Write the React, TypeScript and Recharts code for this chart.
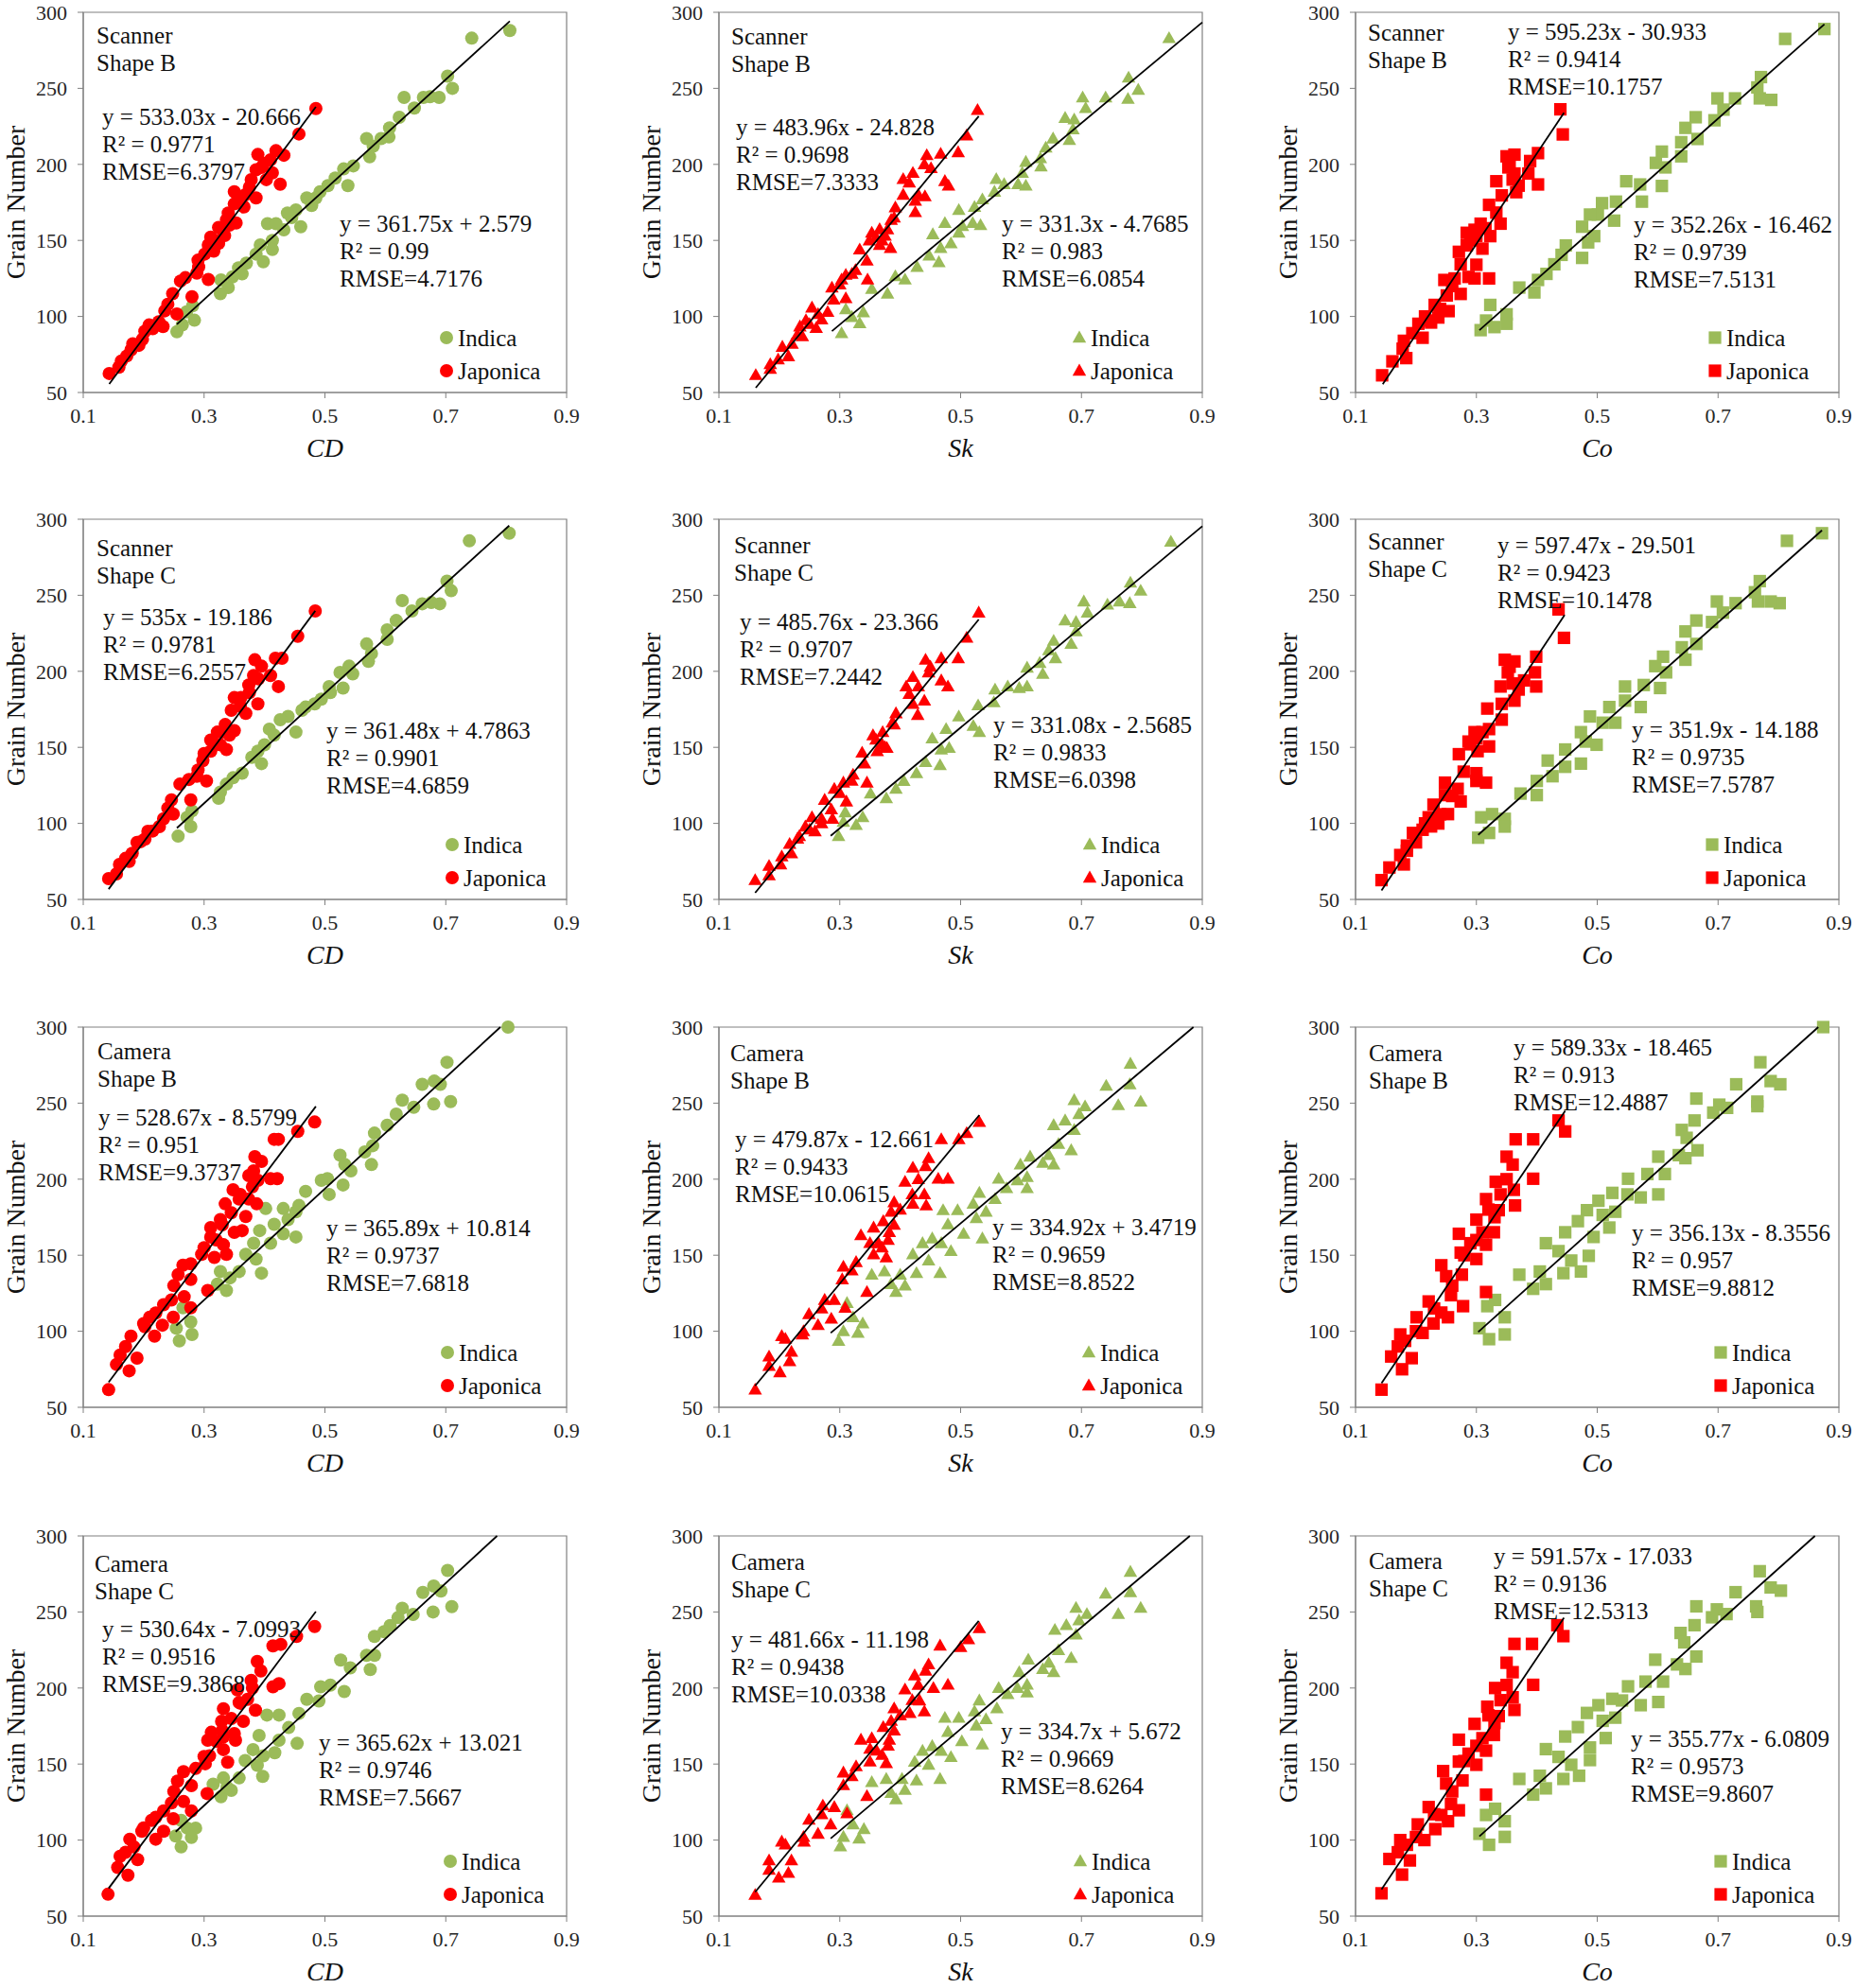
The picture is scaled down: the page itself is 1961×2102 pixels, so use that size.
import { ReferenceArea, Scatter, ScatterChart, XAxis, YAxis } from "recharts";

const FONT = '"Liberation Serif", "Times New Roman", serif';
const GREEN = "#9bbb59";
const RED = "#ff0000";
const FRAME = "#808080";

const X_TICKS = [0.1, 0.3, 0.5, 0.7, 0.9];
const Y_TICKS = [50, 100, 150, 200, 250, 300];

// Scanner, Shape B
const sbCdInd = [[0.806,288],[0.743,283],[0.703,258],[0.711,250],[0.689,244],[0.674,244.5],[0.663,244],[0.631,244],[0.648,237],[0.623,231],[0.607,224],[0.606,218],[0.569,217],[0.593,217],[0.58,212],[0.574,205],[0.547,199],[0.531,197],[0.538,186],[0.517,191],[0.505,186],[0.492,182],[0.485,178],[0.47,178],[0.478,173],[0.452,170],[0.445,165],[0.438,168],[0.46,159],[0.432,157],[0.405,161],[0.419,161],[0.413,150],[0.393,147],[0.413,144],[0.386,141],[0.398,136],[0.37,135],[0.357,132],[0.363,128],[0.347,126],[0.328,124],[0.34,119],[0.327,115],[0.281,107],[0.271,103],[0.284,97.5],[0.264,94.5],[0.255,90]];
const sbCdJap = [[0.485,236.7],[0.457,220],[0.419,209],[0.432,206],[0.389,206.5],[0.399,200.6],[0.386,196.5],[0.413,194.4],[0.426,187],[0.403,190],[0.378,190],[0.386,178],[0.368,180],[0.35,182],[0.366,172],[0.35,174],[0.353,161.5],[0.337,163.5],[0.324,158.5],[0.334,153.2],[0.311,152.2],[0.324,148],[0.307,147],[0.301,141],[0.291,132.6],[0.307,124.3],[0.288,128.5],[0.269,125.5],[0.261,123.3],[0.28,113],[0.248,115],[0.255,101.6],[0.235,103.7],[0.232,93.4],[0.225,96.5],[0.209,94.4],[0.202,90.3],[0.192,81],[0.182,82],[0.179,78],[0.163,70.7],[0.159,66.6],[0.143,62.5],[0.318,150],[0.33,157],[0.342,160],[0.316,143],[0.36,176],[0.375,185],[0.395,198],[0.41,203],[0.24,108],[0.215,92],[0.198,85],[0.172,74],[0.29,137],[0.34,168]];
const sbSkInd = [[0.845,283],[0.778,257],[0.794,249],[0.777,243],[0.74,244],[0.702,244],[0.707,237],[0.673,230.5],[0.688,229.5],[0.686,223],[0.68,216],[0.653,217],[0.641,211],[0.632,204],[0.633,198.6],[0.608,201.6],[0.602,194.4],[0.608,186],[0.595,187],[0.572,187],[0.559,190.3],[0.556,182],[0.536,177],[0.523,172],[0.497,170],[0.533,160],[0.52,161.4],[0.503,159.4],[0.474,161.4],[0.497,155],[0.454,154],[0.484,148],[0.467,145],[0.464,135.7],[0.448,140],[0.428,132.6],[0.408,124.3],[0.392,126.4],[0.379,115],[0.353,118],[0.339,102.7],[0.333,95.5],[0.31,104.7],[0.32,99.6],[0.303,89]];
const sbSkJap = [[0.528,235.7],[0.51,219],[0.496,208],[0.467,207],[0.444,206],[0.451,197.5],[0.474,189],[0.48,186],[0.421,194.4],[0.405,190.3],[0.441,179],[0.425,176],[0.425,168.6],[0.405,180],[0.392,171.7],[0.385,163.5],[0.379,157.3],[0.366,157.3],[0.353,155],[0.384,145],[0.366,147],[0.349,150],[0.333,144],[0.345,136.7],[0.326,130.5],[0.31,127.4],[0.303,124.3],[0.346,124.3],[0.31,112],[0.287,119],[0.29,111],[0.28,103],[0.264,101.6],[0.254,105.8],[0.261,92.4],[0.244,97.5],[0.234,93.4],[0.238,87],[0.221,82],[0.205,80],[0.215,73.8],[0.198,71.7],[0.185,68.6],[0.185,65.5],[0.161,61.4],[0.37,150],[0.375,153],[0.36,152],[0.39,165],[0.415,188],[0.43,180],[0.44,200],[0.25,95],[0.27,98],[0.23,88],[0.3,121],[0.32,128]];
const sbCoInd = [[0.876,289],[0.811,282.5],[0.788,242.4],[0.769,243.4],[0.765,250.6],[0.771,257.4],[0.728,243.4],[0.699,243.4],[0.709,236],[0.694,229],[0.663,231],[0.666,216.7],[0.646,224],[0.639,214.6],[0.639,205.3],[0.607,208.4],[0.613,198],[0.597,201],[0.607,185.8],[0.574,175.5],[0.571,186.8],[0.548,188.9],[0.531,175.5],[0.508,174.5],[0.528,163],[0.501,167],[0.488,167],[0.475,159],[0.485,148.7],[0.495,152.8],[0.475,138.5],[0.448,146.7],[0.441,140.5],[0.429,134.3],[0.416,128],[0.402,124],[0.396,115.8],[0.371,119],[0.35,101.4],[0.35,95.2],[0.323,107.6],[0.316,97.3],[0.33,93],[0.307,91]];
const sbCoJap = [[0.439,236.2],[0.443,219.7],[0.402,207.4],[0.389,202.2],[0.363,206.4],[0.35,205.3],[0.353,198],[0.363,194],[0.386,194],[0.402,186.8],[0.333,188.9],[0.366,181.7],[0.342,179.6],[0.321,173.4],[0.333,168.3],[0.34,161],[0.307,161],[0.297,157],[0.284,155],[0.323,152.8],[0.31,144.6],[0.271,142.5],[0.284,146.7],[0.274,134.3],[0.287,126],[0.321,125],[0.297,125],[0.264,125],[0.247,124],[0.274,114.8],[0.251,113.8],[0.231,107.6],[0.254,103.5],[0.237,99.3],[0.221,97.3],[0.204,95.2],[0.194,89],[0.211,86],[0.178,78.8],[0.184,72.6],[0.161,70.5],[0.144,61.3],[0.29,150],[0.3,153],[0.315,158],[0.355,200],[0.36,190],[0.37,186],[0.215,100],[0.225,96],[0.24,105],[0.26,120],[0.18,84],[0.3,134]];

// Scanner, Shape C
const scCdInd = [[0.805,290.8],[0.739,285.8],[0.702,259.3],[0.709,253],[0.69,244.4],[0.676,245.2],[0.661,244.4],[0.628,246.5],[0.644,239.7],[0.618,233.4],[0.603,227.2],[0.603,221],[0.569,218],[0.577,211.7],[0.572,206.5],[0.54,203.4],[0.525,199.3],[0.546,198.3],[0.53,189],[0.507,190],[0.509,186],[0.494,181.7],[0.483,178.6],[0.468,176.5],[0.462,174.4],[0.452,160],[0.439,170.3],[0.426,168.2],[0.408,162],[0.416,158],[0.4,151.7],[0.389,147.5],[0.395,139.3],[0.379,143.4],[0.363,133],[0.348,130],[0.337,125.8],[0.327,120.6],[0.324,116.5],[0.28,108.2],[0.272,104],[0.278,97.9],[0.257,91.6]];
const scCdJap = [[0.484,239.7],[0.455,223],[0.429,208.6],[0.418,208.6],[0.384,207.6],[0.395,203.4],[0.382,197.2],[0.41,197.2],[0.423,190],[0.374,191],[0.389,178.6],[0.361,182.7],[0.35,182.7],[0.345,174.4],[0.369,172.4],[0.335,165],[0.35,161],[0.322,160],[0.311,154.8],[0.327,151.7],[0.337,148.6],[0.311,147.5],[0.298,141.3],[0.304,127.9],[0.288,131],[0.275,128.9],[0.26,125.8],[0.278,115.5],[0.246,115.5],[0.249,106.1],[0.233,103],[0.226,97.9],[0.207,94.8],[0.202,89.6],[0.189,87.5],[0.181,80.3],[0.176,75],[0.16,73],[0.155,66.8],[0.142,63.7],[0.318,152],[0.33,160],[0.342,158],[0.3,146],[0.36,177],[0.375,186],[0.39,195],[0.24,110],[0.215,95],[0.195,88],[0.17,77],[0.29,135]];
const scSkInd = [[0.848,285.2],[0.781,258.3],[0.798,253],[0.78,244.8],[0.763,245.9],[0.743,243.8],[0.704,245.9],[0.71,238.6],[0.673,233.4],[0.691,232.4],[0.691,226.2],[0.683,218],[0.654,220],[0.646,213.8],[0.657,208.6],[0.631,205.5],[0.61,202.4],[0.636,198.3],[0.61,190],[0.597,189],[0.578,190],[0.557,188],[0.555,179.6],[0.529,177.6],[0.497,170.3],[0.531,160],[0.521,164.1],[0.476,162],[0.453,155.8],[0.481,149.6],[0.468,148.6],[0.442,140.3],[0.466,138.2],[0.427,133],[0.406,127.9],[0.393,122.7],[0.377,116.5],[0.351,119.6],[0.338,104],[0.327,98.9],[0.309,107.2],[0.306,101],[0.298,91.6]];
const scSkJap = [[0.53,238.6],[0.51,222],[0.496,208.6],[0.468,208.6],[0.442,207.6],[0.447,199.3],[0.468,194],[0.479,190],[0.421,196.2],[0.41,190],[0.44,180.7],[0.429,171.3],[0.421,178.6],[0.393,172.4],[0.387,166.2],[0.371,160],[0.355,157.9],[0.378,149.6],[0.362,147.5],[0.337,146.5],[0.341,139.3],[0.322,132],[0.306,126.8],[0.345,126.8],[0.291,122.7],[0.275,115.5],[0.311,114.4],[0.286,109.2],[0.288,103],[0.27,103],[0.254,104],[0.243,97.9],[0.259,94.8],[0.233,91.6],[0.217,86.5],[0.22,80.3],[0.204,78.2],[0.202,73],[0.183,72],[0.183,65.8],[0.16,62.7],[0.37,152],[0.375,150],[0.36,155],[0.39,165],[0.415,185],[0.43,190],[0.45,203],[0.25,96],[0.27,100],[0.23,90],[0.3,120],[0.32,128]];
const scCoInd = [[0.872,290.8],[0.814,285.8],[0.802,244.8],[0.787,245.9],[0.766,245.9],[0.769,259.3],[0.761,252],[0.729,244.8],[0.698,245.9],[0.708,238.6],[0.69,232.4],[0.664,233.4],[0.646,226.2],[0.664,218],[0.64,215.8],[0.646,207.6],[0.609,209.6],[0.614,199.3],[0.596,203.4],[0.604,189],[0.577,191],[0.572,176.5],[0.546,190],[0.546,180.7],[0.52,176.5],[0.53,166.2],[0.509,166.2],[0.488,170.3],[0.473,160],[0.499,151.7],[0.481,153.8],[0.447,148.6],[0.473,139.3],[0.447,137.2],[0.418,141.3],[0.426,131],[0.4,127.9],[0.4,118.6],[0.373,119.6],[0.347,103],[0.347,97.9],[0.326,106.1],[0.308,104],[0.321,93.7],[0.303,90.6]];
const scCoJap = [[0.436,240.7],[0.445,222],[0.399,209.6],[0.397,199.3],[0.399,190],[0.363,206.5],[0.347,207.6],[0.352,199.3],[0.379,194],[0.34,190],[0.363,180.7],[0.342,178.6],[0.318,175.5],[0.342,168.2],[0.321,162],[0.297,160],[0.287,153.8],[0.321,150.6],[0.302,147.5],[0.271,145.5],[0.279,134],[0.316,126.8],[0.3,127.9],[0.248,126.8],[0.269,122.7],[0.274,114.4],[0.248,118.6],[0.229,112.3],[0.253,106.1],[0.237,99.9],[0.221,104],[0.211,95.8],[0.195,93.7],[0.2,87.5],[0.185,85.4],[0.174,79.2],[0.18,73],[0.156,71],[0.143,62.7],[0.29,152],[0.3,156],[0.31,160],[0.355,203],[0.36,192],[0.37,188],[0.215,100],[0.225,98],[0.24,106],[0.26,118],[0.185,82],[0.3,133]];

// Camera, Shape B
const cbCdInd = [[0.803,300],[0.702,276.9],[0.708,251],[0.68,249.4],[0.691,262.4],[0.681,264.5],[0.661,262.4],[0.647,247.3],[0.628,252],[0.618,242.8],[0.603,235.5],[0.582,230.3],[0.579,222],[0.566,217.9],[0.577,209.6],[0.525,215.8],[0.533,209.6],[0.543,205.5],[0.53,196.2],[0.504,200.3],[0.494,199.3],[0.507,190],[0.468,192],[0.457,182.7],[0.452,178.6],[0.431,180.7],[0.402,180.7],[0.439,173.4],[0.416,170.3],[0.392,166.2],[0.452,162],[0.431,164.1],[0.41,157.9],[0.382,157.9],[0.369,150.6],[0.386,147.5],[0.395,138.2],[0.358,139.3],[0.327,139.3],[0.343,135.1],[0.322,131],[0.337,126.8],[0.265,115.5],[0.278,106.1],[0.254,102],[0.28,97.9],[0.259,93.7]];
const cbCdJap = [[0.483,237.6],[0.455,231.4],[0.423,226.2],[0.416,226.2],[0.384,214.8],[0.395,211.7],[0.382,205.5],[0.421,200.3],[0.41,200.3],[0.389,199.3],[0.374,202.4],[0.348,193],[0.387,183.8],[0.374,186.9],[0.358,186.9],[0.335,183.8],[0.369,175.5],[0.327,173.4],[0.311,168.2],[0.363,166.2],[0.311,162],[0.332,156.9],[0.337,150.6],[0.296,150.6],[0.317,148.6],[0.278,144.4],[0.265,143.4],[0.257,137.2],[0.278,134.1],[0.306,126.8],[0.267,122.7],[0.278,115.5],[0.246,120.6],[0.233,117.5],[0.249,109.2],[0.231,104],[0.21,109.2],[0.202,103],[0.218,96.8],[0.179,96.8],[0.189,82.3],[0.161,84.4],[0.176,74],[0.155,78.2],[0.142,61.6],[0.32,160],[0.33,170],[0.345,178],[0.36,190],[0.38,195],[0.3,155],[0.25,130],[0.22,112],[0.2,105],[0.17,90],[0.35,165]];
const cbSkInd = [[0.781,275.9],[0.78,262.4],[0.741,261.4],[0.798,251],[0.761,248.6],[0.688,252],[0.706,247.9],[0.696,242.8],[0.654,235.5],[0.673,238.6],[0.688,232.4],[0.662,223.1],[0.683,219],[0.646,215.8],[0.654,209.6],[0.636,210.7],[0.615,214.8],[0.599,209.6],[0.61,201.4],[0.61,194.1],[0.594,199.3],[0.563,200.3],[0.576,194.1],[0.557,186.9],[0.531,191],[0.521,183.8],[0.542,178.6],[0.495,179.6],[0.471,179.6],[0.526,174.4],[0.479,170.3],[0.536,161],[0.505,164.1],[0.453,161],[0.468,157.9],[0.437,157.9],[0.484,152.7],[0.421,150.6],[0.447,146.5],[0.466,138.2],[0.427,138.2],[0.4,137.2],[0.374,139.3],[0.353,137.2],[0.385,131],[0.408,130],[0.393,125.8],[0.312,118.6],[0.322,109.2],[0.338,105.1],[0.306,100],[0.33,98.9],[0.298,93.7]];
const cbSkJap = [[0.531,237.6],[0.51,230.3],[0.497,226.2],[0.468,226.2],[0.447,213.8],[0.442,208.6],[0.421,207.6],[0.479,200.3],[0.463,200.3],[0.408,198.3],[0.44,190],[0.39,184.8],[0.421,183.8],[0.443,182.7],[0.385,178.6],[0.372,172.4],[0.356,168.2],[0.335,163.1],[0.382,165.1],[0.364,157.9],[0.377,148.6],[0.356,150.6],[0.327,145.5],[0.306,142.4],[0.304,134.1],[0.345,125.8],[0.275,120.6],[0.291,120.6],[0.309,115.5],[0.249,111.3],[0.286,108.2],[0.264,104],[0.238,97.9],[0.204,96.8],[0.22,86.5],[0.217,80.3],[0.183,83.4],[0.201,73],[0.183,77.2],[0.16,61.6],[0.37,155],[0.38,160],[0.39,170],[0.42,190],[0.43,200],[0.35,158],[0.32,140],[0.27,115],[0.24,100],[0.21,95],[0.4,180]];
const cbCoInd = [[0.874,300],[0.77,276.9],[0.73,262.4],[0.787,264.5],[0.803,262.4],[0.765,251],[0.765,248],[0.664,253],[0.702,249],[0.692,243.8],[0.715,246.9],[0.661,238.6],[0.64,232.4],[0.648,227.2],[0.666,219],[0.646,213.8],[0.635,215.8],[0.601,214.8],[0.612,203.4],[0.583,203.4],[0.551,200.3],[0.601,190],[0.572,188],[0.55,190],[0.525,191],[0.502,185.8],[0.483,179.6],[0.53,178.6],[0.509,176.5],[0.468,172.4],[0.52,168.2],[0.494,162],[0.447,165.1],[0.415,157.9],[0.436,152.7],[0.486,149.6],[0.457,146.5],[0.473,139.3],[0.444,138.2],[0.405,139.3],[0.371,137.2],[0.415,131],[0.394,127.9],[0.318,116.5],[0.331,120.6],[0.347,109.2],[0.305,102],[0.347,97.9],[0.321,94.8]];
const cbCoJap = [[0.436,238.6],[0.447,231.4],[0.394,226.2],[0.365,226.2],[0.35,214.8],[0.36,209.6],[0.394,200.3],[0.332,198.3],[0.362,193],[0.316,186.9],[0.364,182.7],[0.337,179.6],[0.3,173.4],[0.329,165.1],[0.271,164.1],[0.316,156.9],[0.29,157.9],[0.274,151.7],[0.3,147.5],[0.242,143.4],[0.276,137.2],[0.25,136.2],[0.316,125.8],[0.258,123.7],[0.278,116.5],[0.221,119.6],[0.242,112.3],[0.253,109.2],[0.229,105.1],[0.201,109.2],[0.211,98.9],[0.174,97.9],[0.182,93.7],[0.193,82.3],[0.159,83.4],[0.177,75],[0.143,61.6],[0.3,160],[0.31,165],[0.33,175],[0.34,190],[0.35,200],[0.28,150],[0.26,130],[0.23,115],[0.2,100],[0.17,90],[0.32,180]];

// Camera, Shape C
const ccCdInd = [[0.71,253.5],[0.703,277.3],[0.692,263.8],[0.68,267],[0.662,262.8],[0.679,250],[0.646,248.4],[0.628,252.5],[0.621,246.3],[0.608,241.1],[0.598,237],[0.582,233.9],[0.582,221.5],[0.569,221.5],[0.575,212.2],[0.526,218.4],[0.542,213.2],[0.532,197.7],[0.509,201.9],[0.493,200.8],[0.49,191.5],[0.47,192.6],[0.457,183.3],[0.424,182.2],[0.404,182.2],[0.44,174],[0.454,163.6],[0.424,165.7],[0.391,168.8],[0.417,157.4],[0.398,155.4],[0.381,159.5],[0.368,152.3],[0.388,149.2],[0.397,141.9],[0.358,140.9],[0.332,140.9],[0.315,136.8],[0.345,132.7],[0.328,128.5],[0.338,134.7],[0.262,113],[0.272,107.9],[0.286,107.9],[0.253,102.7],[0.279,101.7],[0.262,95.5]];
const ccCdJap = [[0.483,240.5],[0.453,233.9],[0.427,228.7],[0.414,227.7],[0.388,217.4],[0.394,211.2],[0.424,202.9],[0.414,200.8],[0.378,205],[0.355,198.8],[0.358,190.5],[0.332,186.4],[0.372,192.6],[0.385,185.4],[0.365,178.1],[0.329,178.1],[0.312,170.9],[0.332,167.8],[0.306,165.7],[0.352,165.7],[0.332,159.5],[0.309,155.4],[0.339,151.2],[0.302,150.2],[0.286,147.1],[0.266,145],[0.256,138.8],[0.279,135.8],[0.305,130.6],[0.246,124.4],[0.266,125.4],[0.233,119.2],[0.249,114.1],[0.279,119.2],[0.213,113],[0.233,105.8],[0.22,100.6],[0.197,105.8],[0.177,100.6],[0.184,95.5],[0.161,89.3],[0.19,87.2],[0.157,82],[0.174,76.9],[0.141,64.4],[0.32,165],[0.33,172],[0.345,180],[0.36,190],[0.38,200],[0.3,155],[0.25,132],[0.22,115],[0.2,108],[0.17,92],[0.35,170]];
const ccSkInd = [[0.781,276.4],[0.781,263],[0.74,262],[0.798,252.7],[0.761,248.6],[0.691,252.7],[0.709,248.6],[0.696,244.4],[0.656,238.2],[0.675,241.3],[0.691,235.1],[0.662,224.8],[0.683,219.7],[0.646,216.6],[0.654,210.4],[0.636,212.4],[0.612,218.6],[0.597,210.4],[0.61,202.1],[0.61,197],[0.594,200],[0.563,200],[0.578,195.9],[0.56,186.6],[0.531,191.8],[0.523,184.6],[0.542,179.4],[0.497,180.4],[0.474,180.4],[0.526,175.3],[0.479,171.1],[0.536,162.9],[0.502,165],[0.453,161.8],[0.468,158.7],[0.437,158.7],[0.484,154.6],[0.424,151.5],[0.447,149.5],[0.466,140.2],[0.427,139.2],[0.403,140.2],[0.377,140.2],[0.353,138.1],[0.385,131],[0.408,133],[0.393,126.8],[0.312,119.6],[0.322,110.3],[0.34,107.2],[0.306,102.1],[0.332,101],[0.301,95.9]];
const ccSkJap = [[0.531,239.3],[0.513,232],[0.5,226.9],[0.466,227.9],[0.447,215.5],[0.442,211.4],[0.424,208.3],[0.479,202.1],[0.455,200],[0.408,199],[0.432,191.8],[0.39,186.6],[0.416,183.5],[0.44,184.6],[0.385,178.4],[0.372,174.3],[0.353,167],[0.335,166],[0.382,166],[0.361,158.8],[0.377,150.6],[0.35,151.6],[0.327,148.5],[0.306,144.4],[0.306,136.1],[0.345,128.9],[0.272,122.7],[0.291,121.7],[0.312,117.6],[0.249,113.4],[0.285,110.3],[0.264,104.1],[0.241,99],[0.204,99],[0.22,86.6],[0.215,78.4],[0.183,86.6],[0.199,75.3],[0.183,80.4],[0.16,63.9],[0.37,156],[0.38,162],[0.39,172],[0.42,192],[0.43,202],[0.35,160],[0.32,142],[0.27,117],[0.24,102],[0.21,97],[0.4,182]];
const ccCoInd = [[0.769,276.8],[0.729,263],[0.787,266.1],[0.804,264],[0.763,253.7],[0.765,250],[0.664,253.7],[0.698,251.7],[0.69,246.5],[0.714,248.6],[0.661,241.3],[0.638,236.2],[0.644,230],[0.664,220.7],[0.646,212.5],[0.632,215.5],[0.596,218.6],[0.609,204.2],[0.58,204.2],[0.551,201.1],[0.601,190.8],[0.572,188.7],[0.541,191.8],[0.525,192.9],[0.502,188.7],[0.483,183.6],[0.53,180.5],[0.509,178.4],[0.468,174.3],[0.514,167.1],[0.488,160.9],[0.447,168.1],[0.415,159.8],[0.436,154.7],[0.488,152.6],[0.457,149.5],[0.47,142.3],[0.444,140.2],[0.405,142.3],[0.371,140.2],[0.415,134],[0.394,129.9],[0.316,116.5],[0.331,120.6],[0.347,112.4],[0.305,104.1],[0.347,102.1],[0.321,96.9]];
const ccCoJap = [[0.434,241.3],[0.444,234.1],[0.392,229],[0.363,229],[0.35,216.6],[0.36,210.4],[0.394,202.1],[0.331,200],[0.36,193.9],[0.318,187.7],[0.363,185.6],[0.337,181.5],[0.297,176.4],[0.329,169.1],[0.271,166],[0.316,158.8],[0.287,156.8],[0.271,151.6],[0.3,149.5],[0.245,145.4],[0.277,139.2],[0.25,137.2],[0.316,129.9],[0.258,123.7],[0.271,119.6],[0.221,121.7],[0.242,116.5],[0.253,112.4],[0.232,107.2],[0.203,110.3],[0.214,100],[0.174,100],[0.185,96.9],[0.19,86.6],[0.156,87.6],[0.177,77.3],[0.143,65],[0.3,162],[0.31,167],[0.33,177],[0.34,192],[0.35,202],[0.28,152],[0.26,132],[0.23,117],[0.2,102],[0.17,92],[0.32,182]];

// trendlines: [slope, intercept, x start, x end]
const FITS_IND = [
  [361.75, 2.579, 0.255, 0.806], [331.3, -4.7685, 0.287, 0.9], [352.26, -16.462, 0.305, 0.876],
  [361.48, 4.7863, 0.255, 0.805], [331.08, -2.5685, 0.285, 0.9], [351.9, -14.188, 0.303, 0.872],
  [365.89, 10.814, 0.254, 0.8], [334.92, 3.4719, 0.285, 0.9], [356.13, -8.3556, 0.303, 0.875],
  [365.62, 13.021, 0.253, 0.8], [334.7, 5.672, 0.285, 0.9], [355.77, -6.0809, 0.305, 0.875],
];
const FITS_JAP = [
  [533.03, -20.666, 0.143, 0.485], [483.96, -24.828, 0.161, 0.53], [595.23, -30.933, 0.145, 0.445],
  [535, -19.186, 0.142, 0.484], [485.76, -23.366, 0.16, 0.53], [597.47, -29.501, 0.143, 0.446],
  [528.67, -8.5799, 0.142, 0.485], [479.87, -12.661, 0.16, 0.531], [589.33, -18.465, 0.143, 0.447],
  [530.64, -7.0993, 0.142, 0.485], [481.66, -11.198, 0.16, 0.53], [591.57, -17.033, 0.143, 0.445],
];

const EQ_IND = [
  ["y = 361.75x + 2.579", "R² = 0.99", "RMSE=4.7176"],
  ["y = 331.3x - 4.7685", "R² = 0.983", "RMSE=6.0854"],
  ["y = 352.26x - 16.462", "R² = 0.9739", "RMSE=7.5131"],
  ["y = 361.48x + 4.7863", "R² = 0.9901", "RMSE=4.6859"],
  ["y = 331.08x - 2.5685", "R² = 0.9833", "RMSE=6.0398"],
  ["y = 351.9x - 14.188", "R² = 0.9735", "RMSE=7.5787"],
  ["y = 365.89x + 10.814", "R² = 0.9737", "RMSE=7.6818"],
  ["y = 334.92x + 3.4719", "R² = 0.9659", "RMSE=8.8522"],
  ["y = 356.13x - 8.3556", "R² = 0.957", "RMSE=9.8812"],
  ["y = 365.62x + 13.021", "R² = 0.9746", "RMSE=7.5667"],
  ["y = 334.7x + 5.672", "R² = 0.9669", "RMSE=8.6264"],
  ["y = 355.77x - 6.0809", "R² = 0.9573", "RMSE=9.8607"],
];
const EQ_JAP = [
  ["y = 533.03x - 20.666", "R² = 0.9771", "RMSE=6.3797"],
  ["y = 483.96x - 24.828", "R² = 0.9698", "RMSE=7.3333"],
  ["y = 595.23x - 30.933", "R² = 0.9414", "RMSE=10.1757"],
  ["y = 535x - 19.186", "R² = 0.9781", "RMSE=6.2557"],
  ["y = 485.76x - 23.366", "R² = 0.9707", "RMSE=7.2442"],
  ["y = 597.47x - 29.501", "R² = 0.9423", "RMSE=10.1478"],
  ["y = 528.67x - 8.5799", "R² = 0.951", "RMSE=9.3737"],
  ["y = 479.87x - 12.661", "R² = 0.9433", "RMSE=10.0615"],
  ["y = 589.33x - 18.465", "R² = 0.913", "RMSE=12.4887"],
  ["y = 530.64x - 7.0993", "R² = 0.9516", "RMSE=9.3868"],
  ["y = 481.66x - 11.198", "R² = 0.9438", "RMSE=10.0338"],
  ["y = 591.57x - 17.033", "R² = 0.9136", "RMSE=12.5313"],
];

const DEVICES = ["Scanner", "Scanner", "Camera", "Camera"];
const SHAPES = ["Shape B", "Shape C", "Shape B", "Shape C"];
const FEATURES = ["CD", "Sk", "Co"];
const MARKERS = ["circle", "triangle", "square"];
const INDICA = [sbCdInd, sbSkInd, sbCoInd, scCdInd, scSkInd, scCoInd, cbCdInd, cbSkInd, cbCoInd, ccCdInd, ccSkInd, ccCoInd];
const JAPONICA = [sbCdJap, sbSkJap, sbCoJap, scCdJap, scSkJap, scCoJap, cbCdJap, cbSkJap, cbCoJap, ccCdJap, ccSkJap, ccCoJap];

// layout (pixels, relative to plot area top-left): label, japonica eq, indica eq, legend x
const LAYOUT = [
  { lab: [14, 24], jeq: [20, 110], ieq: [271, 223], leg: 384 },
  { lab: [13, 25], jeq: [18, 121], ieq: [299, 223], leg: 381 },
  { lab: [13, 21], jeq: [161, 20], ieq: [294, 224], leg: 380 },
  { lab: [14, 30], jeq: [21, 103], ieq: [257, 223], leg: 390 },
  { lab: [16, 27], jeq: [22, 108], ieq: [290, 217], leg: 392 },
  { lab: [13, 23], jeq: [150, 27], ieq: [292, 222], leg: 377 },
  { lab: [15, 25], jeq: [16, 95], ieq: [257, 212], leg: 385 },
  { lab: [12, 27], jeq: [17, 118], ieq: [289, 211], leg: 391 },
  { lab: [14, 27], jeq: [167, 21], ieq: [292, 217], leg: 386 },
  { lab: [12, 29], jeq: [20, 98], ieq: [249, 218], leg: 388 },
  { lab: [13, 27], jeq: [13, 109], ieq: [298, 206], leg: 382 },
  { lab: [14, 26], jeq: [146, 21], ieq: [291, 214], leg: 386 },
];

const COL_LEFT = [88, 760, 1433];
const ROW_TOP = [13, 549, 1086, 1624];
const Y_AXIS_W = 88;
const PLOT_W = 511;
const PLOT_H = 402;
const M_TOP = 13;
const M_RIGHT = 20;
const X_AXIS_H = 76;
const CHART_W = Y_AXIS_W + PLOT_W + M_RIGHT;
const CHART_H = M_TOP + PLOT_H + X_AXIS_H;
const LINE_H = 29;
const TICK_FILL = "#262626";

const toPts = (arr: number[][]) => arr.map(([x, y]) => ({ x, y }));

const fitPts = ([a, b, x0, x1]: number[]) => {
  const xe = a * x1 + b > 300 ? (300 - b) / a : x1;
  return [{ x: x0, y: a * x0 + b }, { x: xe, y: a * xe + b }];
};

function Mark({ kind, cx, cy, color }: { kind: string; cx: number; cy: number; color: string }) {
  if (kind === "circle") return <circle cx={cx} cy={cy} r={7} fill={color} />;
  if (kind === "square") return <rect x={cx - 6.6} y={cy - 6.6} width={13.2} height={13.2} fill={color} />;
  return <polygon points={`${cx},${cy - 7.4} ${cx + 7.2},${cy + 5.2} ${cx - 7.2},${cy + 5.2}`} fill={color} />;
}

const shapeFor = (kind: string, color: string) => (props: any) =>
  <Mark kind={kind} cx={props.cx} cy={props.cy} color={color} />;

const noShape = () => <g />;

const XTick = (props: any) => (
  <text x={props.x} y={props.y} dy="0.71em" textAnchor="middle" style={{ fontFamily: FONT, fontSize: 22 }} fill={TICK_FILL}>
    {Number(props.payload.value).toFixed(1)}
  </text>
);

const YTick = (props: any) => (
  <text x={props.x} y={props.y} dy="0.355em" textAnchor="end" style={{ fontFamily: FONT, fontSize: 22 }} fill={TICK_FILL}>
    {props.payload.value}
  </text>
);

const textStyle: React.CSSProperties = {
  position: "absolute",
  fontFamily: FONT,
  fontSize: 25,
  lineHeight: `${LINE_H}px`,
  color: "#111",
  whiteSpace: "pre",
};

function TextBlock({ pos, lines }: { pos: number[]; lines: string[] }) {
  return (
    <div style={{ ...textStyle, left: Y_AXIS_W + pos[0], top: M_TOP + pos[1] - LINE_H / 2 }}>
      {lines.join("\n")}
    </div>
  );
}

function Panel({ i }: { i: number }) {
  const row = Math.floor(i / 3);
  const col = i % 3;
  const kind = MARKERS[col];
  const lay = LAYOUT[i];
  const legY = [344, 379];
  return (
    <div
      style={{
        position: "absolute",
        left: COL_LEFT[col] - Y_AXIS_W,
        top: ROW_TOP[row] - M_TOP,
        width: CHART_W,
        height: CHART_H,
        fontFamily: FONT,
      }}
    >
      <ScatterChart width={CHART_W} height={CHART_H} margin={{ top: M_TOP, right: M_RIGHT, bottom: 0, left: 0 }}>
        <XAxis
          type="number"
          dataKey="x"
          domain={[0.1, 0.9]}
          ticks={X_TICKS}
          height={X_AXIS_H}
          stroke={FRAME}
          tickSize={6}
          tickMargin={10}
          tick={XTick}
          label={{
            value: FEATURES[col],
            position: "insideTop",
            offset: 48,
            fontSize: 28,
            fontFamily: FONT,
            fill: "#111",
            style: { fontStyle: "italic", fontSize: 28, fontFamily: FONT, fill: "#111" },
          }}
        />
        <YAxis
          type="number"
          dataKey="y"
          domain={[50, 300]}
          ticks={Y_TICKS}
          width={Y_AXIS_W}
          stroke={FRAME}
          tickSize={6}
          tickMargin={11}
          tick={YTick}
          label={{
            value: "Grain Number",
            angle: -90,
            position: "insideLeft",
            offset: 16,
            fontSize: 28,
            fontFamily: FONT,
            fill: "#111",
            style: { textAnchor: "middle", fontSize: 28, fontFamily: FONT, fill: "#111" },
          }}
        />
        <ReferenceArea x1={0.1} x2={0.9} y1={50} y2={300} fill="none" stroke={FRAME} strokeWidth={1.2} />
        <Scatter name="Indica" data={toPts(INDICA[i])} shape={shapeFor(kind, GREEN)} isAnimationActive={false} />
        <Scatter name="Japonica" data={toPts(JAPONICA[i])} shape={shapeFor(kind, RED)} isAnimationActive={false} />
        <Scatter
          data={fitPts(FITS_IND[i])}
          line={{ stroke: "#000", strokeWidth: 1.8 }}
          lineType="joint"
          shape={noShape}
          legendType="none"
          isAnimationActive={false}
        />
        <Scatter
          data={fitPts(FITS_JAP[i])}
          line={{ stroke: "#000", strokeWidth: 1.8 }}
          lineType="joint"
          shape={noShape}
          legendType="none"
          isAnimationActive={false}
        />
      </ScatterChart>

      <TextBlock pos={lay.lab} lines={[DEVICES[row], SHAPES[row]]} />
      <TextBlock pos={lay.jeq} lines={EQ_JAP[i]} />
      <TextBlock pos={lay.ieq} lines={EQ_IND[i]} />

      {["Indica", "Japonica"].map((name, k) => (
        <div key={name}>
          <svg
            width={18}
            height={18}
            style={{ position: "absolute", left: Y_AXIS_W + lay.leg - 9, top: M_TOP + legY[k] - 9 }}
          >
            <Mark kind={kind} cx={9} cy={9} color={k === 0 ? GREEN : RED} />
          </svg>
          <div style={{ ...textStyle, left: Y_AXIS_W + lay.leg + 12, top: M_TOP + legY[k] - LINE_H / 2 }}>{name}</div>
        </div>
      ))}
    </div>
  );
}

export default function App() {
  return (
    <div style={{ position: "absolute", left: 0, top: 0, width: 1961, height: 2102, background: "#fff", overflow: "hidden" }}>
      {INDICA.map((_, i) => (
        <Panel key={i} i={i} />
      ))}
    </div>
  );
}
